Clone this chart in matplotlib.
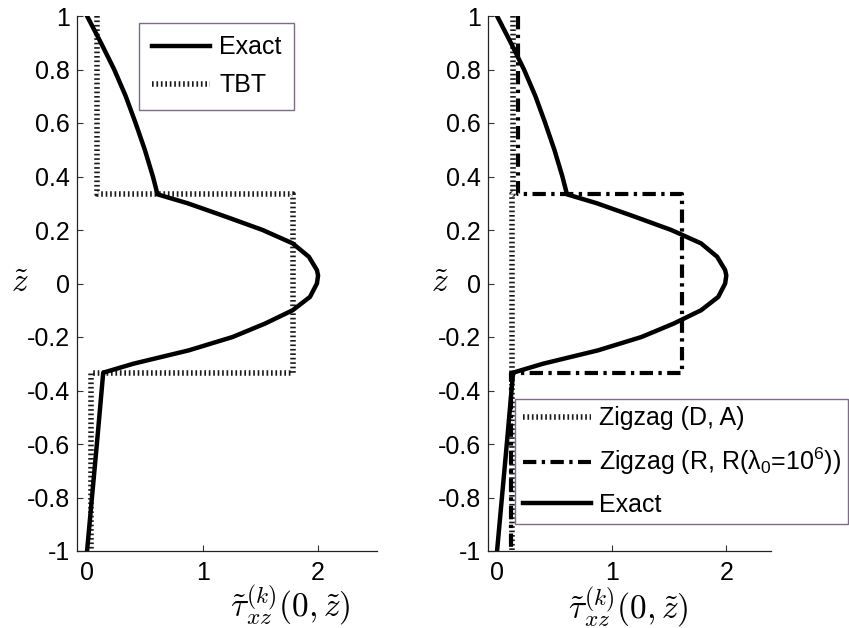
import numpy as np
import matplotlib.pyplot as plt

plt.rcParams['font.family'] = ['Liberation Sans', 'DejaVu Sans']
plt.rcParams['mathtext.fontset'] = 'custom'
plt.rcParams['mathtext.rm'] = 'Liberation Sans'
plt.rcParams['mathtext.it'] = 'Liberation Sans:italic'
plt.rcParams['mathtext.bf'] = 'Liberation Sans:bold'

# Exact through-thickness transverse shear stress
z_exact = [1.0, 0.9, 0.8, 0.7, 0.6, 0.5, 0.4, 1/3,
           0.30, 0.25, 0.20, 0.15, 0.10, 0.05, 0.03, 0.0, -0.05, -0.10, -0.15,
           -0.20, -0.25, -0.30, -1/3, -0.6, -1.0]
tau_exact = [0.0, 0.12, 0.235, 0.335, 0.42, 0.50, 0.57, 0.61,
             0.87, 1.20, 1.52, 1.78, 1.92, 1.99, 2.0, 1.99, 1.93, 1.78, 1.54,
             1.26, 0.88, 0.40, 0.14, 0.085, 0.0]

# Layer interfaces (top to bottom) and layer-wise constant solutions
z_interfaces = [1.0, 1/3, -1/3, -1.0]
tau_tbt = [0.09, 1.78, 0.03]
tau_zigzag_da = [0.14, 0.13, 0.13]
tau_zigzag_r = [0.18, 1.61, 0.12]

y_ticks = [-1, -0.8, -0.6, -0.4, -0.2, 0, 0.2, 0.4, 0.6, 0.8, 1]
y_ticklabels = ['-1', '-0.8', '-0.6', '-0.4', '-0.2', '0', '0.2', '0.4', '0.6', '0.8', '1']
x_ticks = [0, 1, 2]
x_ticklabels = ['0', '1', '2']


def layer_steps(values):
    zs = np.repeat(z_interfaces, 2)[1:-1]
    xs = np.repeat(values, 2)
    return xs, zs


W, H = 849, 628
fig = plt.figure(figsize=(W / 100, H / 100), dpi=100)

FS = 18
LW_EXACT = 3.2
DOT = dict(color='#1a1a1a', linewidth=4.0, linestyle=(0, (0.3, 0.5)),
           solid_capstyle='butt', dash_capstyle='butt')
DASHDOT = dict(color='black', linewidth=3.0, linestyle=(0, (3.2, 1.3, 0.8, 1.3)),
               dash_capstyle='butt')
LEG_EDGE = '#7d6c88'


def make_axes(rect, xlim):
    ax = fig.add_axes(rect)
    ax.set_xlim(*xlim)
    ax.set_ylim(-1, 1)
    for s in ('top', 'right'):
        ax.spines[s].set_visible(False)
    for s in ('left', 'bottom'):
        ax.spines[s].set_linewidth(0.9)
        ax.spines[s].set_color('#222222')
    ax.set_yticks(y_ticks)
    ax.set_yticklabels(y_ticklabels)
    ax.set_xticks(x_ticks)
    ax.set_xticklabels(x_ticklabels)
    ax.tick_params(direction='in', length=4, width=0.8, labelsize=FS,
                   color='#333333')
    ax.tick_params(axis='y', pad=5)
    ax.tick_params(axis='x', pad=7)
    return ax


def px_rect(x0, x1, ytop, ybot):
    return [x0 / W, 1 - ybot / H, (x1 - x0) / W, (ybot - ytop) / H]


# Left panel: exact vs TBT
ax1 = make_axes(px_rect(77, 377, 16, 551), (-0.087, 2.51))
xs, zs = layer_steps(tau_tbt)
ax1.plot(tau_exact, z_exact, color='black', linewidth=LW_EXACT, label='Exact', zorder=3)
ax1.plot(xs, zs, label='TBT', **DOT)
leg1 = ax1.legend(loc='upper left', bbox_to_anchor=(139 / W, 1 - 23 / H),
                  bbox_transform=fig.transFigure, borderaxespad=0,
                  fontsize=FS, frameon=True, fancybox=False, framealpha=1,
                  edgecolor=LEG_EDGE, handlelength=2.35, handletextpad=0.35,
                  borderpad=0.5, labelspacing=0.55)
leg1.get_frame().set_linewidth(1.0)

# Right panel: exact vs zigzag models
ax2 = make_axes(px_rect(488, 771, 16, 551), (-0.079, 2.39))
xs, zs = layer_steps(tau_zigzag_da)
l_da, = ax2.plot(xs, zs, label='Zigzag (D, A)', **DOT)
xs, zs = layer_steps(tau_zigzag_r)
l_r, = ax2.plot(xs, zs, label='Zigzag (R, R(λ$_0$=10$^6$))', **DASHDOT)
l_ex, = ax2.plot(tau_exact, z_exact, color='black', linewidth=LW_EXACT, label='Exact', zorder=3)
leg2 = ax2.legend(handles=[l_da, l_r, l_ex], loc='upper left',
                  bbox_to_anchor=(515 / W, 1 - 399 / H),
                  bbox_transform=fig.transFigure, borderaxespad=0,
                  fontsize=FS, frameon=True, fancybox=False, framealpha=1,
                  edgecolor=LEG_EDGE, handlelength=2.75, handletextpad=0.3,
                  borderpad=0.3, labelspacing=0.62)
leg2.get_frame().set_linewidth(1.0)

# Axis labels
xlabel = r'$\tilde{\tau}_{xz}^{(k)}(0,\tilde{z})$'
ylabel = r'$\tilde{z}$'
fig.text(290 / W, 1 - 605 / H, xlabel, ha='center', va='center',
         fontsize=24, math_fontfamily='cm')
fig.text(628 / W, 1 - 607 / H, xlabel, ha='center', va='center',
         fontsize=24, math_fontfamily='cm')
fig.text(20 / W, 1 - 283 / H, ylabel, ha='center', va='center',
         fontsize=24, math_fontfamily='cm')
fig.text(440 / W, 1 - 283 / H, ylabel, ha='center', va='center',
         fontsize=24, math_fontfamily='cm')

fig.savefig('out.png', dpi=100)
